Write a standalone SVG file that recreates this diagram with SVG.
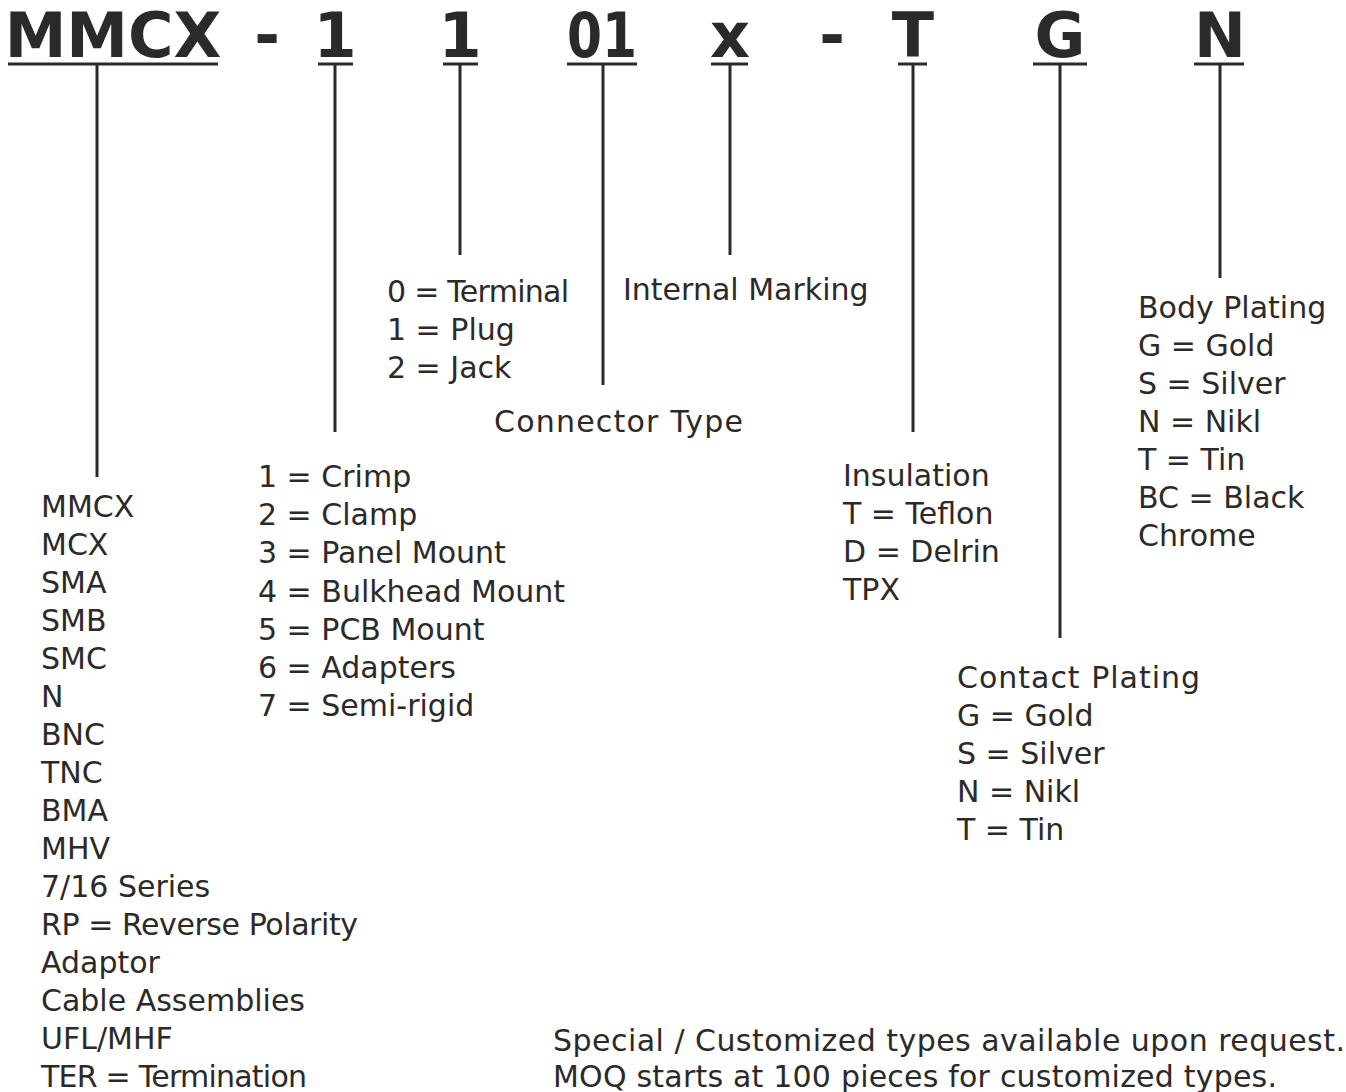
<svg xmlns="http://www.w3.org/2000/svg" width="1346" height="1092" viewBox="0 0 1346 1092">
<style>
.h{font-family:"DejaVu Sans","Liberation Sans",sans-serif;font-weight:bold;font-size:62px;fill:#2b2a29;text-anchor:middle}
.t{font-family:"DejaVu Sans","Liberation Sans",sans-serif;font-size:30px;fill:#2b2a29}
.ln{stroke:#2b2a29;stroke-width:3;fill:none}
</style>
<rect width="1346" height="1092" fill="#fff"/>
<g id="header">
<text class="h" x="113" y="57">MMCX</text>
<text class="h" x="267" y="57">-</text>
<text class="h" x="335" y="57">1</text>
<text class="h" x="460" y="57">1</text>
<text class="h" x="602" y="57" textLength="70" lengthAdjust="spacingAndGlyphs">01</text>
<text class="h" x="730" y="57">x</text>
<text class="h" x="832" y="57">-</text>
<text class="h" x="913" y="57">T</text>
<text class="h" x="1060" y="57">G</text>
<text class="h" x="1220" y="57">N</text>
</g>
<g id="connectors">
<line class="ln" x1="8" y1="64" x2="218" y2="64"/>
<line class="ln" x1="318" y1="64" x2="353" y2="64"/>
<line class="ln" x1="443" y1="64" x2="478" y2="64"/>
<line class="ln" x1="567" y1="64" x2="637" y2="64"/>
<line class="ln" x1="711" y1="64" x2="748" y2="64"/>
<line class="ln" x1="898" y1="64" x2="927" y2="64"/>
<line class="ln" x1="1033" y1="64" x2="1087" y2="64"/>
<line class="ln" x1="1194" y1="64" x2="1244" y2="64"/>
<line class="ln" x1="97" y1="64" x2="97" y2="477"/>
<line class="ln" x1="335" y1="64" x2="335" y2="432"/>
<line class="ln" x1="460" y1="64" x2="460" y2="255"/>
<line class="ln" x1="603" y1="64" x2="603" y2="385"/>
<line class="ln" x1="730" y1="64" x2="730" y2="255"/>
<line class="ln" x1="913" y1="64" x2="913" y2="432"/>
<line class="ln" x1="1060" y1="64" x2="1060" y2="638"/>
<line class="ln" x1="1220" y1="64" x2="1220" y2="278"/>
</g>
<g id="series">
<text class="t" x="41" y="517">MMCX</text>
<text class="t" x="41" y="555">MCX</text>
<text class="t" x="41" y="593">SMA</text>
<text class="t" x="41" y="631">SMB</text>
<text class="t" x="41" y="669">SMC</text>
<text class="t" x="41" y="707">N</text>
<text class="t" x="41" y="745">BNC</text>
<text class="t" x="41" y="783">TNC</text>
<text class="t" x="41" y="821">BMA</text>
<text class="t" x="41" y="859">MHV</text>
<text class="t" x="41" y="897">7/16 Series</text>
<text class="t" x="41" y="935" textLength="317">RP = Reverse Polarity</text>
<text class="t" x="41" y="973">Adaptor</text>
<text class="t" x="41" y="1011">Cable Assemblies</text>
<text class="t" x="41" y="1049">UFL/MHF</text>
<text class="t" x="41" y="1087" textLength="266">TER = Termination</text>
</g>
<g id="mount">
<text class="t" x="258" y="487">1 = Crimp</text>
<text class="t" x="258" y="525">2 = Clamp</text>
<text class="t" x="258" y="563">3 = Panel Mount</text>
<text class="t" x="258" y="602">4 = Bulkhead Mount</text>
<text class="t" x="258" y="640">5 = PCB Mount</text>
<text class="t" x="258" y="678">6 = Adapters</text>
<text class="t" x="258" y="716">7 = Semi-rigid</text>
</g>
<g id="gender">
<text class="t" x="387" y="302" textLength="182">0 = Terminal</text>
<text class="t" x="387" y="340">1 = Plug</text>
<text class="t" x="387" y="378">2 = Jack</text>
</g>
<g id="connector-type"><text class="t" x="494" y="432" textLength="249">Connector Type</text></g>
<g id="internal-marking"><text class="t" x="623" y="300">Internal Marking</text></g>
<g id="insulation">
<text class="t" x="843" y="486">Insulation</text>
<text class="t" x="843" y="524">T = Teflon</text>
<text class="t" x="843" y="562">D = Delrin</text>
<text class="t" x="843" y="600">TPX</text>
</g>
<g id="contact-plating">
<text class="t" x="957" y="688" textLength="243">Contact Plating</text>
<text class="t" x="957" y="726">G = Gold</text>
<text class="t" x="957" y="764">S = Silver</text>
<text class="t" x="957" y="802">N = Nikl</text>
<text class="t" x="957" y="840">T = Tin</text>
</g>
<g id="body-plating">
<text class="t" x="1138" y="318">Body Plating</text>
<text class="t" x="1138" y="356">G = Gold</text>
<text class="t" x="1138" y="394">S = Silver</text>
<text class="t" x="1138" y="432">N = Nikl</text>
<text class="t" x="1138" y="470">T = Tin</text>
<text class="t" x="1138" y="508">BC = Black</text>
<text class="t" x="1138" y="546">Chrome</text>
</g>
<g id="note">
<text class="t" x="553" y="1051" textLength="792">Special / Customized types available upon request.</text>
<text class="t" x="553" y="1087" textLength="724">MOQ starts at 100 pieces for customized types.</text>
</g>
</svg>
